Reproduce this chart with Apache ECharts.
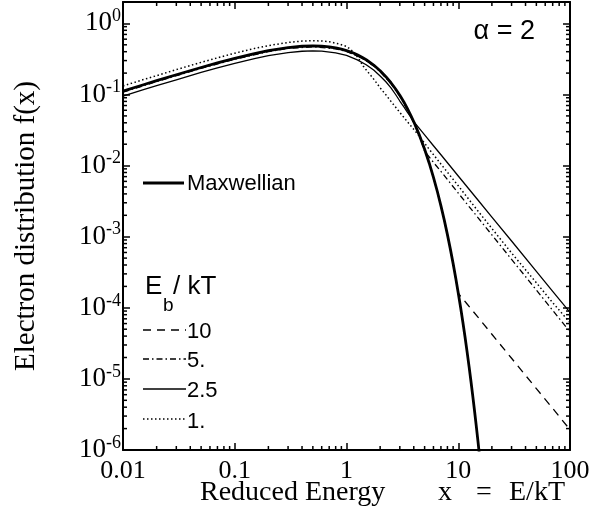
<!DOCTYPE html>
<html><head><meta charset="utf-8">
<script src="https://cdn.jsdelivr.net/npm/echarts@6/dist/echarts.min.js"></script>
<style>html,body{margin:0;padding:0;background:#fff}#c{width:606px;height:523px}</style>
</head><body><div id="c"></div><script>
// ---- data ----
const maxwX = [0.01,0.015,0.02,0.03,0.05,0.07,0.1,0.15,0.2,0.3,0.4,0.5,0.6,0.7,0.8,0.9,1,1.125,1.25,1.375,1.5,1.75,2,2.25,2.5,2.75,3,3.25,3.5,3.75,4,4.5,5,5.5,6,6.5,7,7.5,8,8.5,9,9.5,10,10.5,11,11.5,12,12.5,13,13.5,14,14.5,15,15.5,16];
const maxwY = [0.1117,0.1361,0.1563,0.1896,0.2399,0.2783,0.3227,0.376,0.413,0.4577,0.4782,0.484,0.4795,0.4687,0.4533,0.4354,0.415,0.3886,0.3613,0.3345,0.3082,0.2594,0.2159,0.1781,0.1464,0.1196,0.0975,0.0793,0.0637,0.0514,0.0413,0.0266,0.0170,0.01081,0.00685,0.004323,0.00272,0.001709,0.00107,6.69e-4,4.18e-4,2.604e-4,1.62e-4,1.007e-4,6.25e-5,3.875e-5,2.40e-5,1.487e-5,9.19e-6,5.68e-6,3.51e-6,2.165e-6,1.34e-6,8.26e-7,5.08e-7];

const eb10X = [0.01,0.02,0.05,0.1,0.2,0.3,0.5,0.8,1,1.5,2,2.5,3,3.5,4,4.5,5,5.5,6,6.5,7,7.5,8,8.5,9,9.5,10,12,15,20,30,50,70,100];
const eb10Y = [0.1106,0.1547,0.2375,0.3195,0.409,0.4531,0.4792,0.4488,0.4109,0.3051,0.2137,0.1449,0.0965,0.0631,0.0409,0.0263,0.0168,0.0107,0.00678,0.00428,0.00269,0.00169,0.00106,6.62e-4,4.14e-4,2.58e-4,1.6e-4,1.13e-4,7.4e-5,4.25e-5,1.95e-5,7.3e-6,3.85e-6,1.93e-6];

const eb5X = [0.01,0.02,0.05,0.1,0.2,0.3,0.5,0.8,1,1.25,1.5,1.75,2,2.5,3,3.5,4,4.5,5,6,7,10,15,20,30,50,70,100];
const eb5Y = [0.108,0.152,0.233,0.313,0.401,0.444,0.469,0.44,0.403,0.350,0.299,0.252,0.209,0.142,0.0946,0.0618,0.040,0.0258,0.0160,0.0111,0.0083,0.0041,0.00186,1.06e-3,4.8e-4,1.78e-4,9.2e-5,4.6e-5];

const eb25X = [0.01,0.015,0.02,0.03,0.05,0.07,0.1,0.15,0.2,0.3,0.4,0.5,0.6,0.8,1,1.25,1.5,1.75,2,2.25,2.5,2.75,3,3.25,3.5,3.75,4,5,6,7,10,15,20,30,50,70,100];
const eb25Y = [0.095,0.116,0.133,0.161,0.204,0.237,0.274,0.32,0.351,0.389,0.406,0.411,0.408,0.385,0.355,0.307,0.262,0.2205,0.182,0.151,0.124,0.100,0.081,0.0675,0.0566,0.0485,0.0415,0.027,0.019,0.0142,0.00714,0.00328,0.00189,8.7e-4,3.25e-4,1.7e-4,8.6e-5];

const eb1X = [0.01,0.015,0.02,0.03,0.05,0.07,0.1,0.15,0.2,0.3,0.4,0.5,0.6,0.7,0.85,1,1.1,1.2,1.3,1.414,1.55,1.7,1.85,2,2.25,2.5,3,3.5,4.24,5.4,7,10,15,22.9,30,50,70,100];
const eb1Y = [0.132,0.161,0.184,0.224,0.283,0.328,0.381,0.444,0.487,0.540,0.564,0.571,0.566,0.553,0.515,0.475,0.425,0.37,0.31,0.25,0.208,0.175,0.147,0.124,0.099,0.08,0.056,0.0415,0.029,0.0176,0.0105,0.0052,0.0023,1.0e-3,5.9e-4,2.25e-4,1.18e-4,6.2e-5];

const xTickLabels = {'-2':'0.01','-1':'0.1','0':'1','1':'10','2':'100'};
const yTickExps = {'0':'0','-1':'-1','-2':'-2','-3':'-3','-4':'-4','-5':'-5','-6':'-6'};
const xMinor = [0.02,0.03,0.04,0.05,0.06,0.07,0.08,0.09,0.2,0.3,0.4,0.5,0.6,0.7,0.8,0.9,2,3,4,5,6,7,8,9,20,30,40,50,60,70,80,90];
const yMinor = [];
[1e-6,1e-5,1e-4,1e-3,1e-2,1e-1].forEach(d=>{for(let k=2;k<=9;k++) yMinor.push(+(k*d).toPrecision(3));});

const X_MIN = 0.01, X_MAX = 100, Y_MIN = 1e-6, Y_MAX = 2;

// ---- chart ----
const zip = (xs, ys) => xs.map((x,i)=>[x, ys[i]]);
const SERIF = 'Liberation Serif', SANS = 'Liberation Sans';
const chart = echarts.init(document.getElementById('c'), null, {renderer:'canvas'});

function axisCommon(extra){
  return Object.assign({
    type:'log', logBase:10,
    axisLine:{show:true, onZero:false, lineStyle:{color:'#000', width:2}},
    axisTick:{show:true, inside:true, length:7, lineStyle:{color:'#000', width:1.5}},
    splitLine:{show:false}, minorTick:{show:false}, minorSplitLine:{show:false}
  }, extra);
}

const lineSeries = (name, xs, ys, width, dash) => ({
  name, type:'line', data: zip(xs, ys), showSymbol:false, symbol:'none',
  smooth:false, clip:true, silent:true,
  lineStyle:{color:'#000', width, type: dash || 'solid', cap:'butt', join:'round'},
  xAxisIndex:0, yAxisIndex:0, z:3
});

const DASH10 = [8,6], DASH5 = [6,3,1.5,3], DOT1 = [1.5,2.5];
const TXT = (x, y, text, font, align) => ({type:'text', x, y, style:{text, font, fill:'#000', align: align||'left', verticalAlign:'middle'}});

const option = {
  animation:false,
  backgroundColor:'#fff',
  grid:{left:123, right:36, top:2, bottom:73, containLabel:false},
  xAxis:[
    axisCommon({position:'bottom', min:X_MIN, max:X_MAX, splitNumber:4,
      axisLabel:{show:true, margin:8, color:'#000', fontFamily:SERIF, fontSize:26,
        formatter:v=>{const e=Math.round(Math.log10(v)); return Math.abs(v-Math.pow(10,e))/v<1e-6 ? (xTickLabels[String(e)]||'') : '';}}}),
    axisCommon({position:'top', min:X_MIN, max:X_MAX, splitNumber:4, axisLabel:{show:false}})
  ],
  yAxis:[
    axisCommon({position:'left', min:Y_MIN, max:Y_MAX, splitNumber:7,
      axisLabel:{show:true, margin:2, showMaxLabel:false,
        formatter:v=>{const e=Math.round(Math.log10(v)); if(Math.abs(v-Math.pow(10,e))/v>1e-6) return ''; const s=yTickExps[String(e)]; return s===undefined?'':'{b|10}{s|'+s+'}';},
        rich:{b:{fontFamily:SERIF, fontSize:27, color:'#000', lineHeight:32},
              s:{fontFamily:SERIF, fontSize:18, color:'#000', verticalAlign:'top'}}}}),
    axisCommon({position:'right', min:Y_MIN, max:Y_MAX, splitNumber:7, axisLabel:{show:false}})
  ],
  series:[
    lineSeries('1.', eb1X, eb1Y, 1.5, DOT1),
    lineSeries('2.5', eb25X, eb25Y, 1.3),
    lineSeries('5.', eb5X, eb5Y, 1.3, DASH5),
    lineSeries('10', eb10X, eb10Y, 1.3, DASH10),
    lineSeries('Maxwellian', maxwX, maxwY, 2.8),
    {type:'custom', silent:true, clip:false, xAxisIndex:0, yAxisIndex:0, z:4,
     data: xMinor.map(v=>[v, 1e-3]),
     renderItem:(params, api)=>{
       const v = api.value(0);
       const b = api.coord([v, Y_MIN]), t = api.coord([v, Y_MAX]);
       return {type:'group', children:[
         {type:'line', shape:{x1:b[0],y1:b[1],x2:b[0],y2:b[1]-4}, style:{stroke:'#000', lineWidth:1.5}},
         {type:'line', shape:{x1:t[0],y1:t[1],x2:t[0],y2:t[1]+4}, style:{stroke:'#000', lineWidth:1.5}}
       ]};
     }},
    {type:'custom', silent:true, clip:false, xAxisIndex:0, yAxisIndex:0, z:4,
     data: yMinor.map(v=>[1, v]),
     renderItem:(params, api)=>{
       const v = api.value(1);
       const l = api.coord([X_MIN, v]), r = api.coord([X_MAX, v]);
       return {type:'group', children:[
         {type:'line', shape:{x1:l[0],y1:l[1],x2:l[0]+4,y2:l[1]}, style:{stroke:'#000', lineWidth:1.5}},
         {type:'line', shape:{x1:r[0],y1:r[1],x2:r[0]-4,y2:r[1]}, style:{stroke:'#000', lineWidth:1.5}}
       ]};
     }}
  ],
  graphic:[
    {type:'text', x:26, y:226, rotation:Math.PI/2,
     style:{text:'Electron distribution f(x)', font:'29px "Liberation Serif"', fill:'#000', align:'center', verticalAlign:'middle'}},
    TXT(200, 493, 'Reduced Energy', '28px "Liberation Serif"'),
    TXT(438, 493, 'x', '28px "Liberation Serif"'),
    TXT(476, 493, '=', '28px "Liberation Serif"'),
    TXT(509, 493, 'E/kT', '28px "Liberation Serif"'),
    TXT(535, 32, 'α = 2', '27px "Liberation Sans"', 'right'),
    {type:'line', shape:{x1:143,y1:183,x2:184,y2:183}, style:{stroke:'#000', lineWidth:3}},
    TXT(187, 184, 'Maxwellian', '22px "Liberation Sans"'),
    TXT(145, 287, 'E', '26px "Liberation Sans"'),
    TXT(163, 306, 'b', '19px "Liberation Sans"'),
    TXT(173, 287, '/ kT', '26px "Liberation Sans"'),
    {type:'line', shape:{x1:143,y1:330,x2:186,y2:330}, style:{stroke:'#000', lineWidth:1.3, lineDash:DASH10}},
    TXT(187, 332, '10', '22px "Liberation Sans"'),
    {type:'line', shape:{x1:143,y1:359,x2:186,y2:359}, style:{stroke:'#000', lineWidth:1.3, lineDash:DASH5}},
    TXT(187, 361, '5.', '22px "Liberation Sans"'),
    {type:'line', shape:{x1:143,y1:389,x2:186,y2:389}, style:{stroke:'#000', lineWidth:1.3}},
    TXT(187, 391, '2.5', '22px "Liberation Sans"'),
    {type:'line', shape:{x1:143,y1:419,x2:186,y2:419}, style:{stroke:'#000', lineWidth:1.5, lineDash:DOT1}},
    TXT(187, 422, '1.', '22px "Liberation Sans"')
  ]
};
chart.setOption(option);
</script></body></html>
